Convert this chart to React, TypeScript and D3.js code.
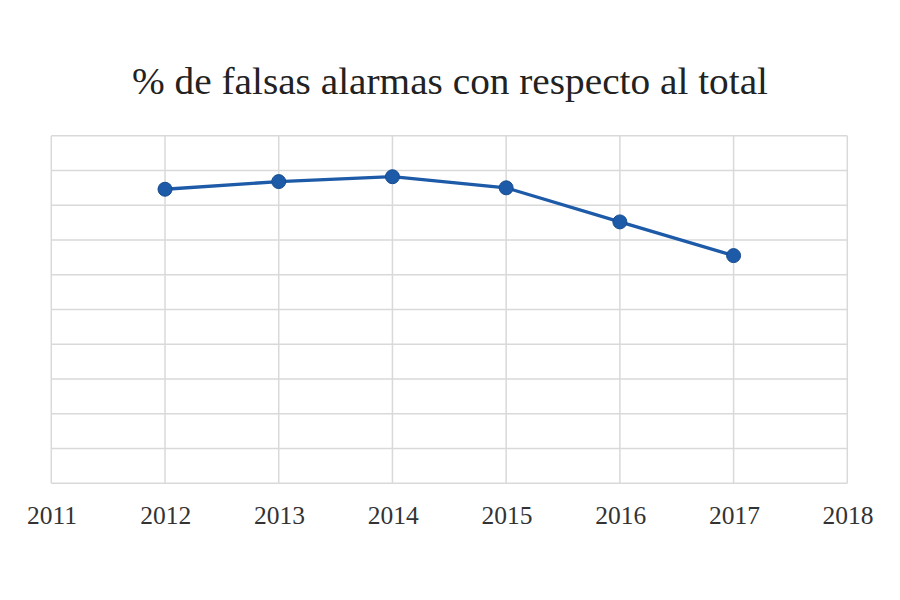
import React from 'react';
import * as d3 from 'd3';

// Values (% of total, axis labels hidden in the source)
const years = [2011, 2012, 2013, 2014, 2015, 2016, 2017, 2018];
const pointYears = [2012, 2013, 2014, 2015, 2016, 2017];
const pointValues = [84.6, 86.8, 88.2, 85.0, 75.2, 65.5];
const yTicks = [0, 10, 20, 30, 40, 50, 60, 70, 80, 90, 100];

const W = 900;
const H = 600;
const M = { left: 51.3, right: 900 - 847.3, top: 135.7, bottom: 600 - 483.3 };

const GRID = '#d9d9d9';
const LINE = '#1d5aa8';
const SERIF = "'Liberation Serif', 'DejaVu Serif', serif";

export default function App() {
  const x = d3.scaleLinear().domain([2011, 2018]).range([M.left, W - M.right]);
  const y = d3.scaleLinear().domain([0, 100]).range([H - M.bottom, M.top]);

  const data = pointYears.map((yr, i) => ({ yr, v: pointValues[i] }));
  const line = d3.line<{ yr: number; v: number }>()
    .x(d => x(d.yr))
    .y(d => y(d.v));

  return (
    <svg
      width={W}
      height={H}
      viewBox={`0 0 ${W} ${H}`}
      style={{ position: 'absolute', left: 0, top: 0, background: '#fff' }}
    >
      <text
        x={450}
        y={94}
        textAnchor="middle"
        fontFamily={SERIF}
        fontSize={37}
        textLength={636}
        lengthAdjust="spacingAndGlyphs"
        fill="#222"
      >
        % de falsas alarmas con respecto al total
      </text>

      {/* horizontal grid */}
      {yTicks.map(t => (
        <line key={`h${t}`} x1={x(2011)} x2={x(2018)} y1={y(t)} y2={y(t)} stroke={GRID} strokeWidth={1.5} />
      ))}
      {/* vertical grid */}
      {years.map(yr => (
        <line key={`v${yr}`} x1={x(yr)} x2={x(yr)} y1={y(0)} y2={y(100)} stroke={GRID} strokeWidth={1.5} />
      ))}

      {/* year labels */}
      {years.map(yr => (
        <text
          key={`t${yr}`}
          x={x(yr) + 0.8}
          y={523.5}
          textAnchor="middle"
          fontFamily={SERIF}
          fontSize={25.5}
          fill="#333"
        >
          {yr}
        </text>
      ))}

      <path d={line(data) || ''} fill="none" stroke={LINE} strokeWidth={3.3} />
      {data.map(d => (
        <circle key={d.yr} cx={x(d.yr)} cy={y(d.v)} r={7} fill={LINE} stroke="#174c8f" strokeWidth={1} />
      ))}
    </svg>
  );
}
